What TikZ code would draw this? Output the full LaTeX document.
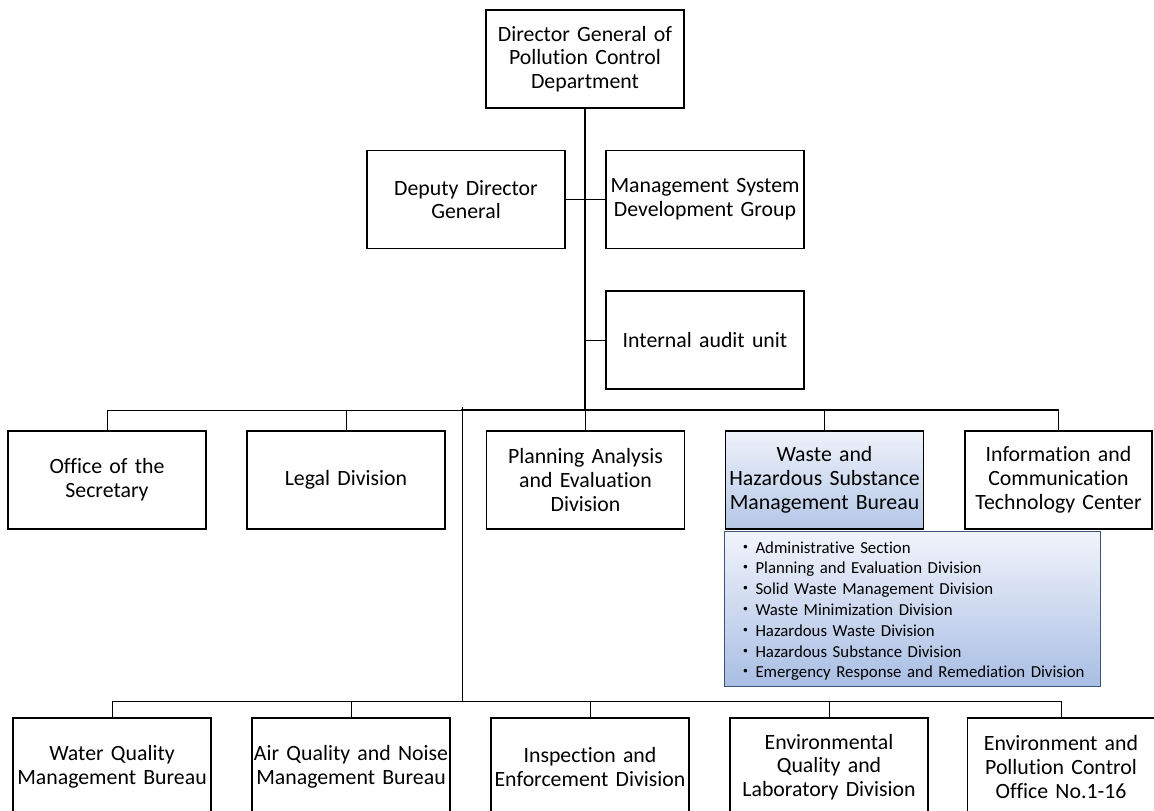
\documentclass[tikz,border=0pt]{standalone}
\usepackage{fontspec}
\setmainfont{Carlito}[Ligatures=NoCommon]
\newfontfamily\cjk{Noto Sans CJK JP}
\definecolor{bureautop}{HTML}{EEF2FA}
\definecolor{bureaubot}{HTML}{B4C7E7}
\definecolor{listtop}{HTML}{F1F4FB}
\definecolor{listbot}{HTML}{A9BEE4}
\definecolor{listedge}{HTML}{3D5479}
\newcommand{\itm}{{\cjk ・}\hspace{1.5pt}}
\begin{document}
\begin{tikzpicture}[x=1pt,y=-1pt,
  unit/.style={draw=black, line width=1.3pt, fill=white,
    minimum width=198pt, minimum height=98pt, inner sep=0pt,
    text width=196pt, align=center,
    font=\fontsize{21.8}{23.8}\selectfont},
  edgeunit/.style={unit, minimum width=187pt, text width=185pt},
  bureau/.style={unit, fill=none, top color=bureautop, bottom color=bureaubot},
  sublist/.style={draw=listedge, line width=1pt, top color=listtop, bottom color=listbot,
    anchor=north west, minimum width=376pt, minimum height=155pt, inner sep=0pt},
  listtext/.style={anchor=base west, inner sep=0pt, text width=360pt, align=left,
    font=\fontsize{16.8}{20.8}\selectfont},
  link/.style={line width=1pt, line cap=rect},
  bus/.style={line width=1.8pt, line cap=rect},
  trunk/.style={line width=2.6pt}]
\useasboundingbox (0,0) rectangle (1154,811);
\clip (0,0) rectangle (1154,811);

% junction points of the two horizontal bars
\coordinate (busT) at (585,410);
\coordinate (busB) at (462,701);
\coordinate (split) at (462,410);
\coordinate (splitTop) at (462,407);

% head and staff units
\node[unit] (dg) at (585,59) {Director General of\\Pollution Control\\Department};
\node[unit] (ddg) at (466,199.5) {Deputy Director\\General};
\node[unit] (msdg) at (705,199.5) {Management System\\Development Group};
\node[unit] (iau) at (705,340) {Internal audit unit};

% first row of divisions
\node[unit] (osec) at (107,480) {Office of the\\Secretary};
\node[unit] (legal) at (346,480) {Legal Division};
\node[unit] (pae) at (585.5,480) {Planning Analysis\\and Evaluation\\Division};
\node[bureau] (whs) at (824.5,480) {Waste and\\Hazardous Substance\\Management Bureau};
\node[edgeunit] (ict) at (1058.5,480) {Information and\\Communication\\Technology Center};

% sections of the waste bureau
\node[sublist] (wlist) at (724,531) {};
\node[listtext] (wtext) at ([shift={(13,22)}]wlist.north west) {%
\itm Administrative Section\\
\itm Planning and Evaluation Division\\
\itm Solid Waste Management Division\\
\itm Waste Minimization Division\\
\itm Hazardous Waste Division\\
\itm Hazardous Substance Division\\
\itm Emergency Response and Remediation Division};

% second row of divisions
\node[unit] (wq) at (112,767) {Water Quality\\Management Bureau};
\node[unit] (aq) at (351,767) {Air Quality and Noise\\Management Bureau};
\node[unit] (ied) at (590,767) {Inspection and\\Enforcement Division};
\node[unit] (eql) at (829,767) {Environmental\\Quality and\\Laboratory Division};
\node[edgeunit] (epc) at (1061,767) {Environment and\\Pollution Control\\Office No.1-16};

% connectors
\draw[trunk] (dg.south) -- (dg.south |- busT);
\draw[link] (ddg.east) -- (msdg.west);
\draw[link] (dg.south |- iau.west) -- (iau.west);

\draw[link] (osec.north |- busT) -- (split);
\draw[bus] (split) -- (ict.north |- busT);
\foreach \n in {osec,legal,pae,whs,ict}
  \draw[link] (\n.north) -- (\n.north |- busT);

\draw[link] (splitTop) -- (busB);
\draw[link] (wq.north |- busB) -- (epc.north |- busB);
\foreach \n in {wq,aq,ied,eql,epc}
  \draw[link] (\n.north) -- (\n.north |- busB);
\end{tikzpicture}
\end{document}
